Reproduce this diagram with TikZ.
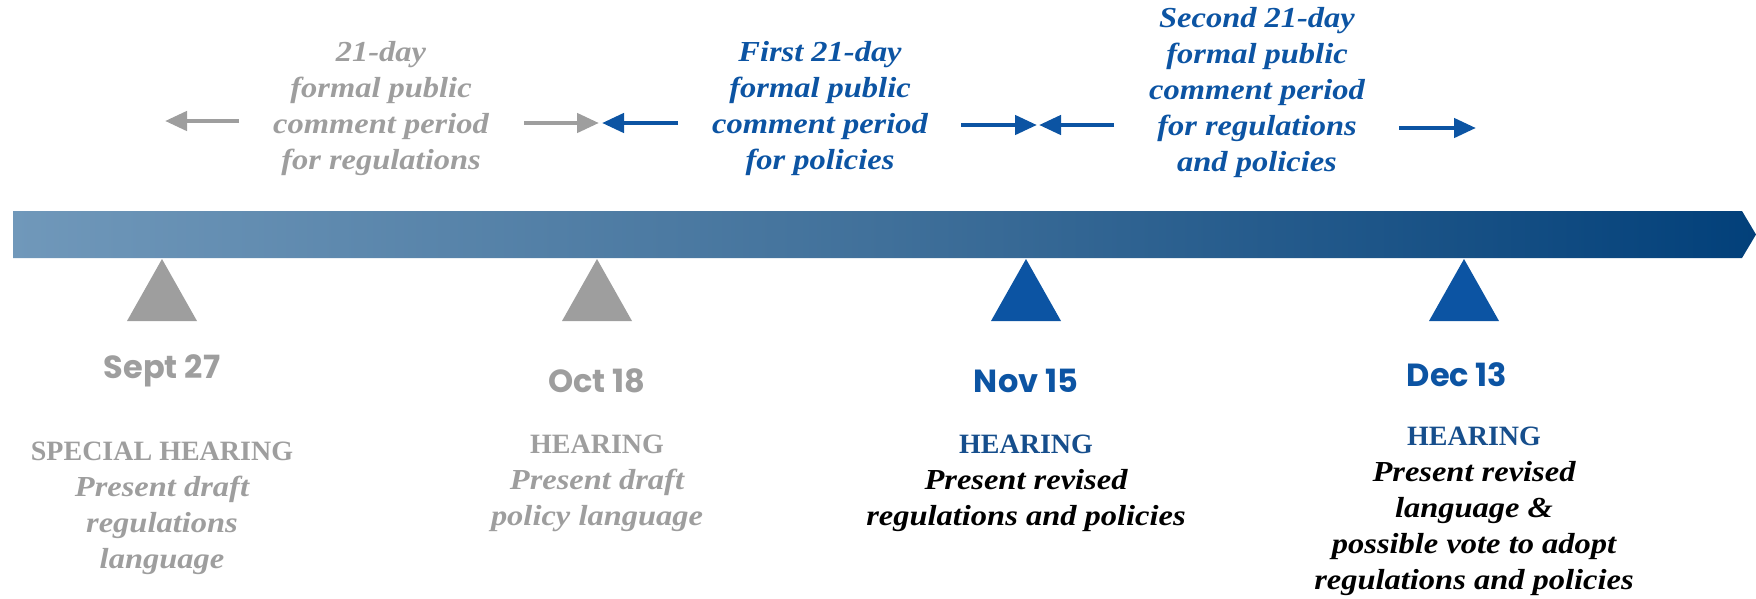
\documentclass[tikz,border=0pt]{standalone}
\usepackage{fontspec}
\usetikzlibrary{arrows.meta}
\setmainfont{Liberation Serif}
\newfontfamily\notefont{Liberation Serif}[FakeStretch=1.12]
\newfontfamily\headfont{Liberation Serif}
\newfontfamily\datefont{Poppins}

\definecolor{barL}{RGB}{112,152,186}
\definecolor{barM}{RGB}{64,112,154}
\definecolor{barR}{RGB}{2,64,122}
\definecolor{greyC}{RGB}{158,158,158}
\definecolor{blueC}{RGB}{12,84,163}
\definecolor{navyC}{RGB}{22,78,140}

\tikzset{
  note/.style={align=center, inner sep=0pt, font=\notefont\bfseries\itshape\fontsize{29}{36}\selectfont},
  datelbl/.style={inner sep=0pt, font=\datefont\bfseries\fontsize{32}{36}\selectfont},
  period/.style={line width=4.5pt, -{Triangle[length=22pt,width=19pt]}},
}
\newcommand{\hd}[1]{{\headfont\bfseries\upshape\fontsize{28}{36}\selectfont #1}}

\begin{document}
\begin{tikzpicture}[x=1pt,y=-1pt]
\useasboundingbox (0,0) rectangle (1756,598);

% timeline bar with pointed end
\shade[left color=barL, right color=barR, middle color=barM]
  (13,211) -- (1742,211) -- (1756,234.5) -- (1742,258) -- (13,258) -- cycle;

% milestone markers
\foreach \mx/\mc in {162/greyC, 597/greyC, 1026/blueC, 1464/blueC}{
  \fill[\mc] (\mx,259) -- (\mx+35,321) -- (\mx-35,321) -- cycle;
}

% comment periods above the bar
\node[note, text=greyC] (p0) at (381,109) {21-day\\formal public\\comment period\\for regulations};
\node[note, text=blueC] (p1) at (820,109) {First 21-day\\formal public\\comment period\\for policies};
\node[note, text=blueC] (p2) at (1257,93) {Second 21-day\\formal public\\comment period\\for regulations\\and policies};

\coordinate (g1s) at (239,121); \coordinate (g1e) at (165,121);
\coordinate (g2s) at (524,123); \coordinate (g2e) at (599,123);
\coordinate (b1s) at (678,123); \coordinate (b1e) at (602,123);
\coordinate (b2s) at (961,125); \coordinate (b2e) at (1037,125);
\coordinate (b3s) at (1114,125); \coordinate (b3e) at (1039,125);
\coordinate (b4s) at (1399,128); \coordinate (b4e) at (1476,128);

\draw[period, greyC] (g1s) -- (g1e);
\draw[period, greyC] (g2s) -- (g2e);
\draw[period, blueC] (b1s) -- (b1e);
\draw[period, blueC] (b2s) -- (b2e);
\draw[period, blueC] (b3s) -- (b3e);
\draw[period, blueC] (b4s) -- (b4e);

% dates
\node[datelbl, text=greyC] (d1) at (162,371) {Sept 27};
\node[datelbl, text=greyC] (d2) at (597,381) {Oct 18};
\node[datelbl, text=blueC] (d3) at (1026,381) {Nov 15};
\node[datelbl, text=blueC] (d4) at (1457,375) {Dec 13};

% hearing descriptions
\node[note, text=greyC] (h1) at (162,508) {\hd{SPECIAL HEARING}\\Present draft\\regulations\\language};
\node[note, text=greyC] (h2) at (597,483) {\hd{HEARING}\\Present draft\\policy language};
\node[note, text=black] (h3) at (1026,483) {\hd{\textcolor{navyC}{HEARING}}\\Present revised\\regulations and policies};
\node[note, text=black] (h4) at (1474,511) {\hd{\textcolor{navyC}{HEARING}}\\Present revised\\language \&\\possible vote to adopt\\regulations and policies};
\end{tikzpicture}
\end{document}
